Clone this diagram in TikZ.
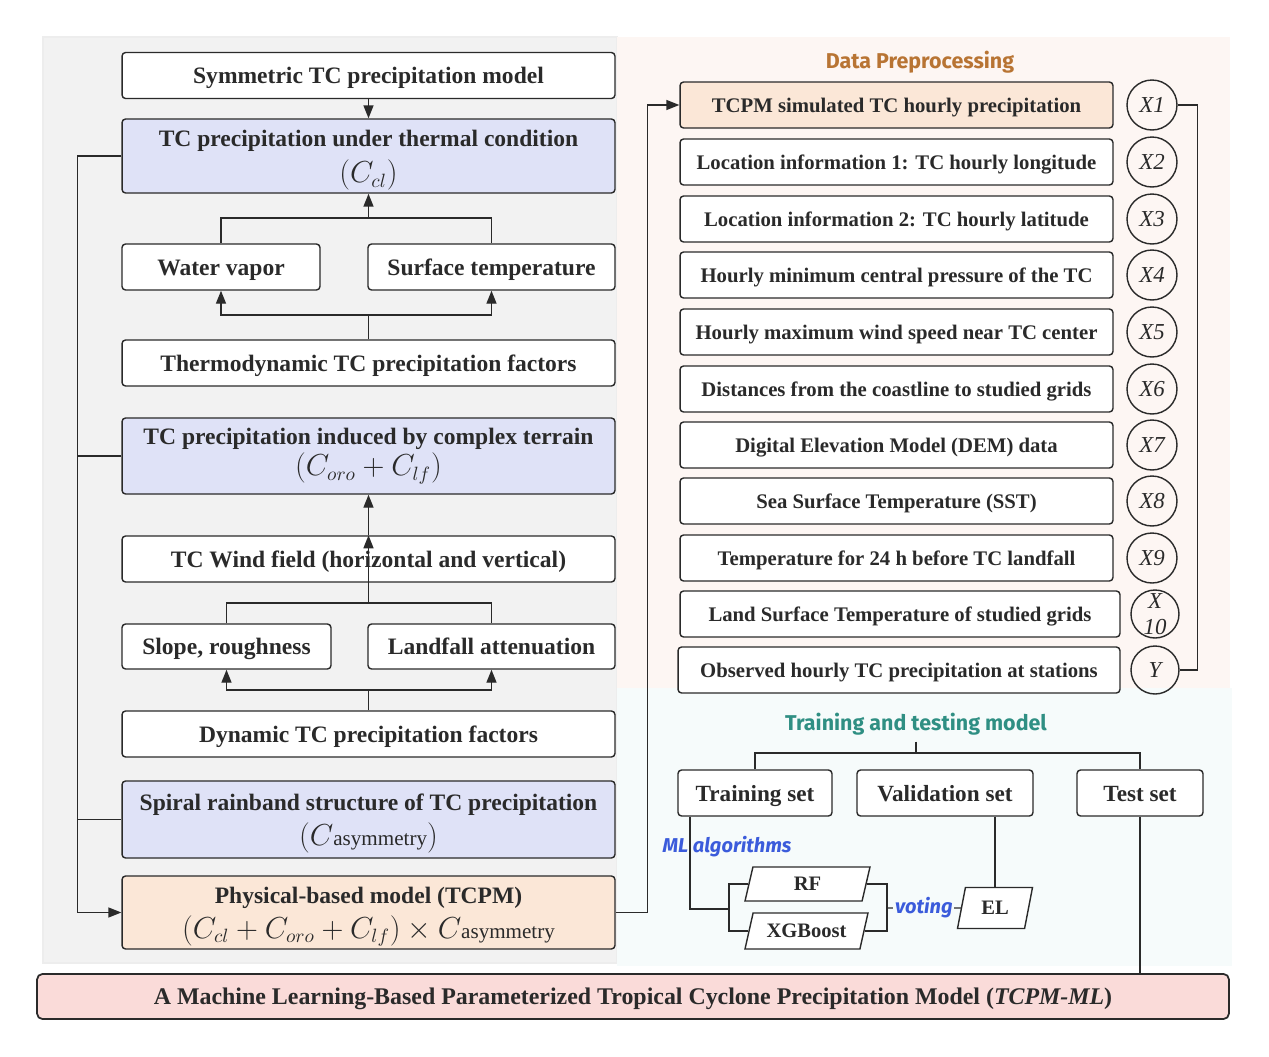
\documentclass[tikz,border=0pt]{standalone}
\usepackage{fontspec}
\setmainfont{Liberation Serif}
\newfontfamily\headfont{Fira Sans}
\usetikzlibrary{arrows.meta,shapes.geometric}

\definecolor{linec}{HTML}{2A2A2A}
\definecolor{graybg}{HTML}{F2F2F2}
\definecolor{pinkbg}{HTML}{FDF6F3}
\definecolor{cyanbg}{HTML}{F6FBFB}
\definecolor{lavender}{HTML}{DFE2F7}
\definecolor{peach}{HTML}{FBE7D7}
\definecolor{barpink}{HTML}{FADBD9}
\definecolor{brownt}{HTML}{B87433}
\definecolor{tealt}{HTML}{2F8F83}
\definecolor{bluet}{HTML}{3B5BDB}

\newcommand\boxfont{\fontsize{13.4}{16}\selectfont\bfseries}
\newcommand\featfont{\fontsize{11.8}{14}\selectfont\bfseries}
\newcommand\setfont{\fontsize{13.2}{16}\selectfont\bfseries}
\newcommand\algofont{\fontsize{11.7}{14}\selectfont\bfseries}
\newcommand\varfont{\fontsize{13}{15}\selectfont\itshape}
\newcommand\barfont{\fontsize{13.6}{16}\selectfont\bfseries}
\newcommand\headtitle{\headfont\fontsize{12.2}{14}\selectfont\bfseries}
\newcommand\mllabel{\headfont\fontsize{11.4}{13}\selectfont\bfseries\itshape}
\newcommand\mathline{\fontsize{16}{19}\selectfont\mdseries}
\newcommand\asym{{\fontsize{12}{14}\selectfont\mdseries asymmetry}}
\newcommand\lift{\rule{0pt}{14pt}}

\begin{document}
\begin{tikzpicture}[x=0.02cm, y=-0.02cm, line width=0.8pt, color=linec,
    box/.style={rectangle, rounded corners=2pt, draw=linec, fill=white,
      minimum width=9.86cm, minimum height=0.92cm, inner sep=2pt,
      text height=12pt, text depth=2.4pt, align=center, font=\boxfont},
    tall/.style={box, minimum height=1.5cm, inner ysep=0pt, text height=, text depth=},
    feat/.style={box, minimum width=8.66cm, text height=11pt, text depth=2.2pt,
      font=\featfont},
    setbox/.style={box, font=\setfont},
    var/.style={circle, draw=linec, minimum size=1cm, inner sep=0pt,
      align=center, font=\varfont},
    algo/.style={trapezium, trapezium left angle=65, trapezium right angle=115,
      trapezium stretches body, draw=linec, fill=white, minimum height=0.68cm,
      inner sep=1pt, font=\algofont},
    arr/.style={-{Triangle[length=2.6mm,width=2mm]}}]
  \useasboundingbox (0,0) rectangle (1269,1056);

  % panels
  \fill[graybg, draw=black!7] (43,37) rectangle (617,963);
  \fill[pinkbg] (617,37) rectangle (1230,688);
  \fill[cyanbg] (617,688) rectangle (1232,966);

  % physical model column
  \node[box] (sym) at (368.5,75.5) {Symmetric TC precipitation model};
  \node[tall, fill=lavender, minimum height=1.48cm] (thermal) at (368.5,156)
    {\lift TC precipitation under thermal condition\\[5pt]{\mathline$(C_{cl})$}};
  \node[box, minimum width=3.96cm] (vapor) at (221,267) {Water vapor};
  \node[box, minimum width=4.94cm] (surf) at (491.5,267) {Surface temperature};
  \node[box] (thermo) at (368.5,363) {Thermodynamic TC precipitation factors};
  \node[tall, fill=lavender, minimum height=1.52cm] (terrain) at (368.5,456)
    {TC precipitation induced by complex terrain\\[2pt]{\mathline$(C_{oro}+C_{lf})$}};
  \node[box] (wind) at (368.5,559) {TC Wind field (horizontal and vertical)};
  \node[box, minimum width=4.18cm, minimum height=0.9cm] (slope) at (226.5,646.5) {Slope, roughness};
  \node[box, minimum width=4.94cm, minimum height=0.9cm] (landfall) at (491.5,646.5) {Landfall attenuation};
  \node[box] (dynamic) at (368.5,734) {Dynamic TC precipitation factors};
  \node[tall, fill=lavender, minimum height=1.54cm] (spiral) at (368.5,819.5)
    {\lift Spiral rainband structure of TC precipitation\\[4pt]{\mathline$(C$\asym$)$}};
  \node[tall, fill=peach, minimum height=1.46cm] (tcpm) at (368.5,912.5)
    {\lift Physical-based model (TCPM)\\[4pt]{\mathline$(C_{cl}+C_{oro}+C_{lf})\times C$\asym}};

  \draw[arr] (sym) -- (thermal);
  \draw (vapor.north) |- (surf.north |- 0,218) -- (surf.north);
  \draw[arr] (thermal.south |- 0,218) -- (thermal.south);
  \draw[arr] (thermo.north) -- (thermo.north |- 0,315) -| (vapor.south);
  \draw[arr] (thermo.north |- 0,315) -| (surf.south);
  \draw[arr] (wind) -- (terrain);
  \draw (slope.north) |- (landfall.north |- 0,603) -- (landfall.north);
  \draw[arr] (wind.north |- 0,603) -- (wind.north);
  \draw[arr] (dynamic.north) -- (dynamic.north |- 0,690) -| (slope.south);
  \draw[arr] (dynamic.north |- 0,690) -| (landfall.south);
  \draw[arr] (thermal.west) -- ++(-44,0) |- (tcpm.west);
  \draw
    (terrain.west) -- ++(-44,0)
    (spiral.west) -- ++(-44,0);

  % data preprocessing
  \node[font=\headtitle, text=brownt] (dptitle) at (920,62) {Data Preprocessing};
  \node[feat, fill=peach] (f1) at (896.5,105) {TCPM simulated TC hourly precipitation};
  \node[feat] (f2) at (896.5,162) {Location information 1: TC hourly longitude};
  \node[feat] (f3) at (896.5,219) {Location information 2: TC hourly latitude};
  \node[feat] (f4) at (896.5,275) {Hourly minimum central pressure of the TC};
  \node[feat] (f5) at (896.5,332) {Hourly maximum wind speed near TC center};
  \node[feat] (f6) at (896.5,389) {Distances from the coastline to studied grids};
  \node[feat] (f7) at (896.5,445) {Digital Elevation Model (DEM) data};
  \node[feat] (f8) at (896.5,501) {Sea Surface Temperature (SST)};
  \node[feat] (f9) at (896.5,558) {Temperature for 24 h before TC landfall};
  \node[feat, minimum width=8.8cm] (f10) at (900,614) {Land Surface Temperature of studied grids};
  \node[feat, minimum width=8.84cm] (f11) at (899,670) {Observed hourly TC precipitation at stations};

  \node[var] (x1) at (1152,105) {X1};
  \node[var] (x2) at (1152,162) {X2};
  \node[var] (x3) at (1152,219) {X3};
  \node[var] (x4) at (1152,275) {X4};
  \node[var] (x5) at (1152,332) {X5};
  \node[var] (x6) at (1152,389) {X6};
  \node[var] (x7) at (1152,445) {X7};
  \node[var] (x8) at (1152,501) {X8};
  \node[var] (x9) at (1152,558) {X9};
  \node[var, minimum size=0.96cm] (x10) at (1155,614) {X\\10};
  \node[var, minimum size=0.96cm] (yv) at (1155,670) {Y};

  \draw[arr] (tcpm.east) -- ++(32,0) |- (f1.west);
  \draw (x1.east) -- ++(20,0) |- (yv.east);

  % training and testing
  \node[font=\headtitle, text=tealt] (tttitle) at (916,724) {Training and testing model};
  \node[setbox, minimum width=3.08cm] (train) at (755,793) {Training set};
  \node[setbox, minimum width=3.52cm] (valid) at (945,793) {Validation set};
  \node[setbox, minimum width=2.52cm] (test) at (1140,793) {Test set};
  \node[font=\mllabel, text=bluet] (mlalg) at (727,847) {ML algorithms};
  \node[algo, minimum width=2.5cm] (rf) at (807.5,884) {RF};
  \node[algo, minimum width=2.46cm, minimum height=0.72cm] (xgb) at (806.5,931) {XGBoost};
  \node[algo, minimum width=1.5cm, minimum height=0.82cm] (el) at (995,908) {EL};
  \coordinate (mlin) at (729,909);
  \coordinate (vote) at (887,908);

  \draw (tttitle.south) -- (tttitle.south |- 0,753);
  \draw (train.north) |- (test.north |- 0,753) -- (test.north);
  \draw (train.south -| 690,0) |- (mlin);
  \draw (rf.west) -| (mlin) |- (xgb.west);
  \draw (rf.east) -| (vote) |- (xgb.east);
  \draw (vote) -- (el.west)
    node[midway, fill=cyanbg, inner sep=1pt, font=\mllabel, text=bluet] {voting};
  \draw (valid.south -| el.north) -- (el.north);

  % result
  \node[box, fill=barpink, minimum width=23.84cm, minimum height=0.9cm,
    rounded corners=3pt, line width=1pt, font=\barfont] (bar) at (633,996.5)
    {A Machine Learning-Based Parameterized Tropical Cyclone Precipitation Model (\textit{TCPM-ML})};
  \draw (test.south) -- (test.south |- bar.north);
\end{tikzpicture}
\end{document}
